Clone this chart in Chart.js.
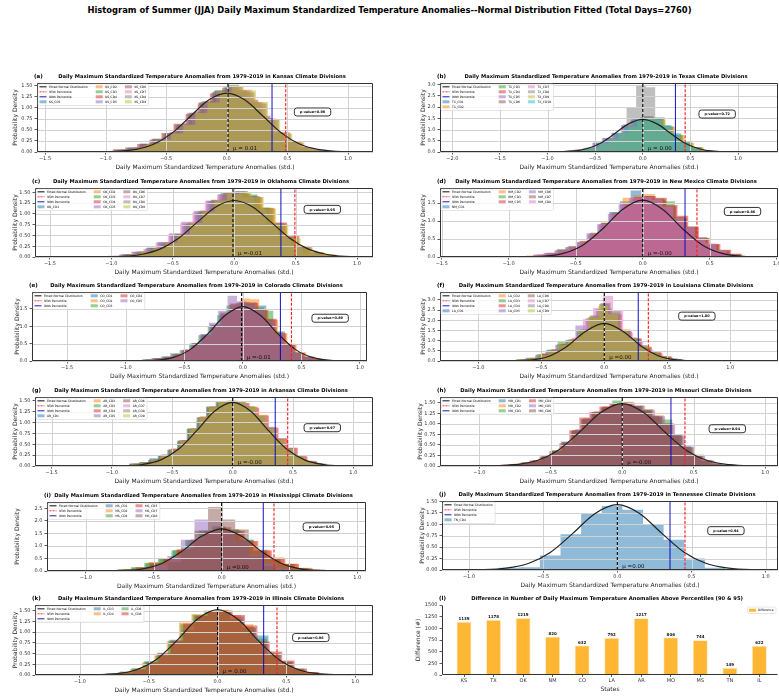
<!DOCTYPE html>
<html>
<head>
<meta charset="utf-8">
<script src="https://cdn.jsdelivr.net/npm/chart.js@4.4.1/dist/chart.umd.min.js"></script>
<style>
  html, body { margin: 0; padding: 0; background: #fff; }
  #fig { position: relative; width: 779px; height: 698px; overflow: hidden; font-family: "DejaVu Sans", sans-serif; }
  #suptitle { position: absolute; left: 0; top: 5px; width: 779px; text-align: center; font-weight: bold; font-size: 8.4px; color: #000; white-space: nowrap; }
  canvas { position: absolute; }
</style>
</head>
<body>
<div id="fig">
  <div id="suptitle">Histogram of Summer (JJA) Daily Maximum Standardized Temperature Anomalies--Normal Distribution Fitted (Total Days=2760)</div>
</div>
<script>
const FONT = '"DejaVu Sans", sans-serif';
const TAB10 = ['#1f77b4', '#ff7f0e', '#2ca02c', '#d62728', '#9467bd', '#8c564b', '#e377c2', '#7f7f7f', '#bcbd22', '#17becf'];

// ---- per-panel summary values ----
const PANEL_TAGS = ['(a)', '(b)', '(c)', '(d)', '(e)', '(f)', '(g)', '(h)', '(i)', '(j)', '(k)'];
const STATE_NAMES = ['Kansas', 'Texas', 'Oklahoma', 'New Mexico', 'Colorado', 'Louisiana', 'Arkansas', 'Missouri', 'Mississippi', 'Tennessee', 'Illinois'];
const P_VALUES = ['0.98', '0.72', '0.95', '0.86', '0.89', '1.00', '0.97', '0.94', '0.95', '0.94', '0.96'];
const MU = [0.01, 0.00, -0.01, -0.00, -0.01, 0.00, -0.00, -0.00, 0.00, 0.00, 0.00];
const MU_TEXT = ['\u03bc = 0.01', '\u03bc = 0.00', '\u03bc =-0.01', '\u03bc =-0.00', '\u03bc =-0.01', '\u03bc =0.00', '\u03bc =-0.00', '\u03bc =-0.00', '\u03bc =0.00', '\u03bc =0.00', '\u03bc = 0.00'];
const P90 = [0.373, 0.343, 0.380, 0.316, 0.321, 0.270, 0.353, 0.341, 0.307, 0.355, 0.335];
const P95 = [0.486, 0.445, 0.494, 0.405, 0.415, 0.350, 0.456, 0.439, 0.386, 0.456, 0.432];

// ---- fitted normal curves (x grid shared) ----
const CURVE_X = [-2.0, -1.5, -1.2, -0.9, -0.75, -0.6, -0.45, -0.3, -0.15, 0, 0.15, 0.3, 0.45, 0.6, 0.75, 0.9, 1.2, 1.5];
const KS_CURVE = [0, 0, 0, 0.015, 0.058, 0.180, 0.432, 0.807, 1.174, 1.33, 1.174, 0.807, 0.432, 0.180, 0.058, 0.015, 0, 0];
const TX_CURVE = [0, 0, 0, 0.007, 0.035, 0.134, 0.380, 0.800, 1.250, 1.45, 1.250, 0.800, 0.380, 0.134, 0.035, 0.007, 0, 0];
const OK_CURVE = [0, 0, 0.001, 0.017, 0.064, 0.189, 0.441, 0.808, 1.161, 1.31, 1.161, 0.808, 0.441, 0.189, 0.064, 0.017, 0.001, 0];
const NM_CURVE = [0, 0, 0, 0.003, 0.019, 0.093, 0.321, 0.778, 1.323, 1.58, 1.323, 0.778, 0.321, 0.093, 0.019, 0.003, 0, 0];
const CO_CURVE = [0, 0, 0, 0.003, 0.021, 0.097, 0.328, 0.782, 1.318, 1.57, 1.318, 0.782, 0.328, 0.097, 0.021, 0.003, 0, 0];
const LA_CURVE = [0, 0, 0, 0, 0.004, 0.039, 0.211, 0.705, 1.454, 1.85, 1.454, 0.705, 0.211, 0.039, 0.004, 0, 0, 0];
const AR_CURVE = [0, 0, 0, 0.007, 0.035, 0.135, 0.383, 0.805, 1.258, 1.46, 1.258, 0.805, 0.383, 0.135, 0.035, 0.007, 0, 0];
const MO_CURVE = [0, 0, 0, 0.006, 0.031, 0.125, 0.369, 0.798, 1.268, 1.48, 1.268, 0.798, 0.369, 0.125, 0.031, 0.006, 0, 0];
const MS_CURVE = [0, 0, 0, 0.001, 0.011, 0.068, 0.277, 0.754, 1.375, 1.68, 1.375, 0.754, 0.277, 0.068, 0.011, 0.001, 0, 0];
const TN_CURVE = [0, 0, 0, 0.008, 0.039, 0.142, 0.390, 0.802, 1.238, 1.43, 1.238, 0.802, 0.390, 0.142, 0.039, 0.008, 0, 0];
const IL_CURVE = [0, 0, 0, 0.004, 0.025, 0.111, 0.348, 0.789, 1.290, 1.52, 1.290, 0.789, 0.348, 0.111, 0.025, 0.004, 0, 0];

// ---- histograms: division names, first bin edge, bin width, bin heights ----
const KS_DIVS = ['KS_CD1', 'KS_CD2', 'KS_CD3', 'KS_CD4', 'KS_CD5', 'KS_CD6', 'KS_CD7', 'KS_CD8', 'KS_CD9'];
const KS_START = [-1.02, -0.98, -1.00, -1.04, -0.97, -1.01, -0.99, -1.03, -0.96];
const KS_BW = 0.1;
const KS_HIST = [
  [0.02, 0.04, 0.10, 0.19, 0.30, 0.40, 0.60, 0.85, 1.10, 1.35, 1.45, 1.37, 1.12, 0.76, 0.44, 0.22, 0.10, 0.04, 0.02, 0.01],
  [0.01, 0.05, 0.09, 0.16, 0.27, 0.44, 0.63, 0.90, 1.14, 1.33, 1.49, 1.36, 1.10, 0.72, 0.45, 0.24, 0.11, 0.05, 0.02, 0.01],
  [0.02, 0.05, 0.08, 0.17, 0.29, 0.41, 0.61, 0.87, 1.15, 1.40, 1.52, 1.35, 1.08, 0.74, 0.41, 0.21, 0.09, 0.04, 0.01, 0.01],
  [0.02, 0.06, 0.10, 0.18, 0.27, 0.43, 0.64, 0.86, 1.10, 1.32, 1.44, 1.40, 1.18, 0.82, 0.46, 0.23, 0.10, 0.05, 0.02, 0.01],
  [0.03, 0.06, 0.11, 0.17, 0.28, 0.45, 0.66, 0.92, 1.13, 1.36, 1.47, 1.34, 1.09, 0.73, 0.42, 0.20, 0.09, 0.04, 0.02, 0.00],
  [0.02, 0.04, 0.09, 0.18, 0.30, 0.43, 0.62, 0.89, 1.14, 1.38, 1.46, 1.39, 1.13, 0.75, 0.43, 0.22, 0.10, 0.04, 0.02, 0.01],
  [0.02, 0.05, 0.10, 0.16, 0.28, 0.42, 0.63, 0.88, 1.12, 1.36, 1.50, 1.41, 1.12, 0.76, 0.44, 0.23, 0.11, 0.05, 0.02, 0.01],
  [0.01, 0.05, 0.09, 0.17, 0.29, 0.42, 0.62, 0.89, 1.13, 1.34, 1.47, 1.37, 1.11, 0.77, 0.43, 0.21, 0.10, 0.04, 0.02, 0.01],
  [0.02, 0.05, 0.09, 0.18, 0.28, 0.42, 0.61, 0.88, 1.12, 1.36, 1.48, 1.39, 1.13, 0.74, 0.42, 0.22, 0.09, 0.04, 0.02, 0.01]
];

const TX_DIVS = ['TX_CD1', 'TX_CD2', 'TX_CD3', 'TX_CD4', 'TX_CD5', 'TX_CD6', 'TX_CD7', 'TX_CD8', 'TX_CD9', 'TX_CD10'];
const TX_START = [-1.00, -0.97, -1.02, -0.99, -1.03, -0.98, -1.01, -0.37, -0.96, -1.00];
const TX_BW = 0.1;
const TX_HIST = [
  [0.02, 0.04, 0.06, 0.10, 0.17, 0.38, 0.58, 0.82, 1.12, 1.40, 1.50, 1.42, 1.15, 0.78, 0.42, 0.20, 0.07, 0.02],
  [0.03, 0.04, 0.07, 0.11, 0.19, 0.40, 0.60, 0.80, 1.10, 1.42, 1.52, 1.45, 1.12, 0.74, 0.40, 0.22, 0.08, 0.02],
  [0.02, 0.03, 0.06, 0.09, 0.18, 0.42, 0.62, 0.84, 1.15, 1.45, 1.55, 1.48, 1.18, 0.76, 0.41, 0.19, 0.07, 0.02],
  [0.02, 0.04, 0.05, 0.10, 0.20, 0.39, 0.57, 0.82, 1.18, 1.48, 1.60, 1.50, 1.14, 0.73, 0.38, 0.21, 0.06, 0.02],
  [0.01, 0.04, 0.06, 0.11, 0.18, 0.40, 0.61, 0.86, 1.20, 1.44, 1.52, 1.40, 1.10, 0.72, 0.39, 0.20, 0.07, 0.02],
  [0.02, 0.05, 0.07, 0.10, 0.17, 0.37, 0.60, 0.80, 1.16, 1.46, 1.56, 1.46, 1.13, 0.77, 0.42, 0.21, 0.07, 0.02],
  [0.02, 0.04, 0.06, 0.10, 0.19, 0.41, 0.63, 0.85, 1.25, 1.50, 1.58, 1.44, 1.12, 0.73, 0.39, 0.19, 0.06, 0.02],
  [0.10, 0.45, 2.00, 2.95, 2.88, 1.55, 0.70, 0.25, 0.07],
  [0.05, 0.05, 0.07, 0.11, 0.18, 0.38, 0.58, 0.83, 1.14, 1.43, 1.54, 1.43, 1.12, 0.75, 0.41, 0.21, 0.08, 0.02],
  [0.02, 0.04, 0.06, 0.10, 0.18, 0.40, 0.59, 0.84, 1.15, 1.45, 1.55, 1.48, 1.20, 0.85, 0.45, 0.20, 0.07, 0.02]
];

const OK_DIVS = ['OK_CD1', 'OK_CD2', 'OK_CD3', 'OK_CD4', 'OK_CD5', 'OK_CD6', 'OK_CD7', 'OK_CD8', 'OK_CD9'];
const OK_START = [-1.02, -0.98, -1.01, -0.97, -1.03, -0.99, -1.04, -1.00, -0.96];
const OK_BW = 0.1;
const OK_HIST = [
  [0.02, 0.05, 0.11, 0.21, 0.35, 0.50, 0.75, 1.02, 1.28, 1.44, 1.50, 1.42, 1.10, 0.74, 0.44, 0.23, 0.10, 0.04, 0.02, 0.01],
  [0.03, 0.06, 0.13, 0.19, 0.32, 0.54, 0.80, 1.08, 1.32, 1.47, 1.46, 1.38, 1.14, 0.78, 0.47, 0.21, 0.09, 0.05, 0.02, 0.01],
  [0.02, 0.07, 0.12, 0.22, 0.31, 0.50, 0.76, 1.04, 1.30, 1.50, 1.52, 1.45, 1.15, 0.72, 0.43, 0.20, 0.10, 0.05, 0.02, 0.00],
  [0.02, 0.06, 0.10, 0.20, 0.34, 0.53, 0.79, 1.06, 1.27, 1.43, 1.47, 1.39, 1.13, 0.80, 0.50, 0.24, 0.11, 0.05, 0.02, 0.01],
  [0.03, 0.06, 0.12, 0.18, 0.33, 0.55, 0.82, 1.07, 1.31, 1.46, 1.49, 1.37, 1.09, 0.75, 0.44, 0.22, 0.10, 0.04, 0.01, 0.01],
  [0.02, 0.05, 0.13, 0.21, 0.32, 0.51, 0.77, 1.05, 1.33, 1.48, 1.53, 1.41, 1.11, 0.77, 0.45, 0.22, 0.10, 0.05, 0.02, 0.01],
  [0.02, 0.06, 0.12, 0.19, 0.34, 0.52, 0.78, 1.03, 1.29, 1.45, 1.48, 1.40, 1.12, 0.76, 0.46, 0.23, 0.10, 0.05, 0.02, 0.01],
  [0.02, 0.06, 0.11, 0.20, 0.32, 0.53, 0.77, 1.06, 1.30, 1.44, 1.49, 1.41, 1.13, 0.77, 0.45, 0.22, 0.10, 0.04, 0.02, 0.01],
  [0.02, 0.06, 0.12, 0.20, 0.33, 0.52, 0.79, 1.05, 1.31, 1.46, 1.50, 1.39, 1.12, 0.76, 0.44, 0.22, 0.10, 0.05, 0.02, 0.01]
];

const NM_DIVS = ['NM_CD1', 'NM_CD2', 'NM_CD3', 'NM_CD5', 'NM_CD6', 'NM_CD7', 'NM_CD8'];
const NM_START = [-0.89, -0.87, -0.88, -0.86, -0.90, -0.87, -0.89];
const NM_BW = 0.08;
const NM_HIST = [
  [0.03, 0.06, 0.10, 0.18, 0.27, 0.40, 0.62, 0.90, 1.25, 1.55, 1.85, 1.70, 1.58, 1.38, 1.05, 0.80, 0.50, 0.33, 0.17, 0.08, 0.03],
  [0.04, 0.07, 0.12, 0.20, 0.30, 0.45, 0.68, 0.95, 1.20, 1.65, 1.72, 1.75, 1.62, 1.42, 1.10, 0.84, 0.54, 0.36, 0.19, 0.09, 0.03],
  [0.03, 0.05, 0.11, 0.22, 0.30, 0.43, 0.66, 0.93, 1.24, 1.45, 1.62, 1.66, 1.63, 1.55, 1.12, 0.85, 0.55, 0.35, 0.18, 0.08, 0.03],
  [0.02, 0.06, 0.11, 0.17, 0.28, 0.44, 0.64, 0.94, 1.22, 1.47, 1.66, 1.70, 1.65, 1.45, 1.15, 0.84, 0.53, 0.36, 0.20, 0.09, 0.03],
  [0.03, 0.06, 0.12, 0.18, 0.27, 0.42, 0.66, 0.91, 1.20, 1.46, 1.64, 1.67, 1.58, 1.38, 1.06, 0.80, 0.51, 0.34, 0.18, 0.08, 0.02],
  [0.03, 0.05, 0.11, 0.19, 0.29, 0.41, 0.65, 0.95, 1.23, 1.50, 1.66, 1.69, 1.59, 1.40, 1.07, 0.82, 0.52, 0.35, 0.18, 0.07, 0.03],
  [0.03, 0.06, 0.11, 0.18, 0.28, 0.42, 0.64, 0.92, 1.21, 1.48, 1.65, 1.67, 1.60, 1.40, 1.08, 0.83, 0.56, 0.38, 0.19, 0.08, 0.03]
];

const CO_DIVS = ['CO_CD1', 'CO_CD2', 'CO_CD3', 'CO_CD4', 'CO_CD5'];
const CO_START = [-0.92, -0.90, -0.94, -0.91, -0.93];
const CO_BW = 0.08;
const CO_HIST = [
  [0.02, 0.04, 0.07, 0.12, 0.19, 0.30, 0.52, 0.78, 1.05, 1.40, 1.62, 1.68, 1.70, 1.60, 1.20, 0.85, 0.50, 0.23, 0.11, 0.05, 0.02],
  [0.03, 0.05, 0.08, 0.11, 0.21, 0.33, 0.48, 0.73, 1.00, 1.40, 1.65, 1.80, 1.78, 1.48, 1.18, 0.80, 0.47, 0.25, 0.12, 0.05, 0.02],
  [0.03, 0.05, 0.09, 0.13, 0.22, 0.31, 0.50, 0.74, 1.00, 1.32, 1.60, 1.68, 1.66, 1.55, 1.45, 0.84, 0.50, 0.26, 0.13, 0.06, 0.02],
  [0.02, 0.04, 0.08, 0.12, 0.20, 0.33, 0.51, 0.76, 1.04, 1.36, 1.66, 1.70, 1.67, 1.48, 1.22, 0.80, 0.47, 0.24, 0.12, 0.05, 0.02],
  [0.03, 0.04, 0.08, 0.12, 0.20, 0.32, 0.50, 0.76, 1.10, 1.45, 1.88, 1.72, 1.62, 1.45, 1.15, 0.78, 0.46, 0.23, 0.11, 0.05, 0.02]
];

const LA_DIVS = ['LA_CD1', 'LA_CD2', 'LA_CD3', 'LA_CD4', 'LA_CD5', 'LA_CD6', 'LA_CD7', 'LA_CD8', 'LA_CD9'];
const LA_START = [-0.78, -0.75, -0.77, -0.74, -0.79, -0.76, -0.73, -0.75, -0.77];
const LA_BW = 0.08;
const LA_HIST = [
  [0.05, 0.08, 0.16, 0.32, 0.55, 0.82, 1.02, 1.45, 2.00, 2.45, 2.20, 1.52, 1.15, 0.78, 0.48, 0.24, 0.12, 0.05, 0.02],
  [0.04, 0.09, 0.17, 0.35, 0.50, 0.85, 1.08, 1.48, 2.05, 2.50, 2.28, 1.55, 1.12, 0.72, 0.43, 0.22, 0.10, 0.05, 0.02],
  [0.04, 0.07, 0.15, 0.33, 0.55, 0.97, 1.05, 1.52, 2.12, 2.52, 2.22, 1.48, 1.08, 0.70, 0.40, 0.21, 0.11, 0.05, 0.02],
  [0.05, 0.08, 0.14, 0.38, 0.58, 0.82, 1.10, 1.55, 2.15, 2.58, 2.30, 1.45, 1.10, 0.68, 0.42, 0.22, 0.10, 0.05, 0.02],
  [0.03, 0.06, 0.13, 0.28, 0.50, 0.78, 1.05, 1.75, 2.10, 2.55, 2.25, 1.50, 1.05, 0.66, 0.40, 0.20, 0.10, 0.04, 0.02],
  [0.04, 0.07, 0.13, 0.29, 0.52, 0.80, 1.04, 1.50, 2.20, 2.80, 2.35, 1.50, 1.08, 0.68, 0.41, 0.21, 0.10, 0.05, 0.02],
  [0.02, 0.05, 0.10, 0.22, 0.42, 0.75, 1.15, 2.05, 2.60, 3.20, 2.50, 1.40, 0.95, 0.55, 0.32, 0.15, 0.07, 0.03, 0.01],
  [0.03, 0.06, 0.12, 0.27, 0.48, 0.76, 1.02, 1.55, 2.25, 2.85, 2.45, 1.48, 1.02, 0.64, 0.38, 0.19, 0.09, 0.04, 0.02],
  [0.04, 0.07, 0.14, 0.30, 0.52, 0.80, 1.05, 1.50, 2.15, 2.70, 2.30, 1.55, 1.12, 0.70, 0.42, 0.22, 0.11, 0.05, 0.02]
];

const AR_DIVS = ['AR_CD1', 'AR_CD2', 'AR_CD3', 'AR_CD4', 'AR_CD5', 'AR_CD6', 'AR_CD7', 'AR_CD8', 'AR_CD9'];
const AR_START = [-0.85, -0.83, -0.86, -0.82, -0.84, -0.85, -0.83, -0.86, -0.84];
const AR_BW = 0.08;
const AR_HIST = [
  [0.04, 0.09, 0.18, 0.24, 0.36, 0.56, 0.83, 1.10, 1.33, 1.44, 1.47, 1.44, 1.33, 1.14, 0.86, 0.60, 0.39, 0.21, 0.10, 0.05, 0.02],
  [0.05, 0.08, 0.13, 0.26, 0.40, 0.60, 0.87, 1.14, 1.38, 1.47, 1.50, 1.43, 1.36, 1.18, 0.86, 0.64, 0.41, 0.23, 0.11, 0.05, 0.02],
  [0.05, 0.07, 0.14, 0.25, 0.37, 0.57, 0.86, 1.03, 1.36, 1.48, 1.47, 1.46, 1.37, 1.13, 0.89, 0.61, 0.40, 0.22, 0.12, 0.05, 0.02],
  [0.05, 0.08, 0.15, 0.24, 0.39, 0.59, 0.84, 1.11, 1.34, 1.46, 1.49, 1.45, 1.34, 1.16, 0.88, 0.63, 0.42, 0.22, 0.11, 0.05, 0.02],
  [0.06, 0.09, 0.14, 0.26, 0.38, 0.58, 0.85, 1.13, 1.35, 1.45, 1.48, 1.44, 1.35, 1.15, 0.87, 0.62, 0.40, 0.21, 0.10, 0.04, 0.02],
  [0.05, 0.08, 0.15, 0.25, 0.38, 0.59, 0.86, 1.12, 1.36, 1.46, 1.50, 1.47, 1.36, 1.14, 0.88, 0.62, 0.40, 0.22, 0.11, 0.05, 0.02],
  [0.04, 0.08, 0.14, 0.27, 0.40, 0.60, 0.84, 1.12, 1.35, 1.45, 1.48, 1.45, 1.34, 1.15, 0.90, 0.63, 0.42, 0.24, 0.12, 0.05, 0.02],
  [0.05, 0.08, 0.14, 0.25, 0.38, 0.58, 0.85, 1.12, 1.36, 1.46, 1.48, 1.45, 1.35, 1.15, 0.88, 0.62, 0.40, 0.22, 0.11, 0.05, 0.02],
  [0.05, 0.08, 0.13, 0.25, 0.37, 0.57, 0.85, 1.12, 1.35, 1.47, 1.50, 1.46, 1.36, 1.16, 0.87, 0.61, 0.39, 0.22, 0.11, 0.05, 0.02]
];

const MO_DIVS = ['MO_CD1', 'MO_CD2', 'MO_CD3', 'MO_CD4', 'MO_CD5', 'MO_CD6'];
const MO_START = [-0.85, -0.83, -0.84, -0.86, -0.82, -0.84];
const MO_BW = 0.07;
const MO_HIST = [
  [0.03, 0.05, 0.09, 0.12, 0.24, 0.36, 0.58, 0.83, 1.10, 1.26, 1.38, 1.46, 1.48, 1.40, 1.30, 1.16, 0.98, 0.75, 0.47, 0.25, 0.12, 0.06, 0.02],
  [0.03, 0.06, 0.08, 0.14, 0.21, 0.34, 0.54, 0.86, 1.13, 1.30, 1.42, 1.50, 1.52, 1.44, 1.35, 1.20, 1.02, 0.70, 0.44, 0.27, 0.14, 0.06, 0.02],
  [0.02, 0.05, 0.08, 0.13, 0.23, 0.38, 0.56, 0.84, 1.11, 1.27, 1.40, 1.55, 1.49, 1.42, 1.33, 1.15, 1.10, 0.72, 0.43, 0.26, 0.13, 0.06, 0.02],
  [0.03, 0.05, 0.07, 0.13, 0.22, 0.35, 0.54, 0.85, 1.15, 1.28, 1.41, 1.47, 1.50, 1.41, 1.31, 1.19, 0.99, 0.71, 0.45, 0.26, 0.13, 0.05, 0.02],
  [0.03, 0.05, 0.08, 0.12, 0.22, 0.34, 0.55, 0.87, 1.12, 1.29, 1.40, 1.48, 1.50, 1.43, 1.32, 1.18, 1.00, 0.73, 0.46, 0.25, 0.12, 0.06, 0.02],
  [0.03, 0.05, 0.08, 0.13, 0.22, 0.35, 0.56, 0.85, 1.12, 1.28, 1.40, 1.47, 1.50, 1.42, 1.32, 1.18, 1.00, 0.72, 0.45, 0.26, 0.13, 0.06, 0.02]
];

const MS_DIVS = ['MS_CD1', 'MS_CD2', 'MS_CD4', 'MS_CD5', 'MS_CD7', 'MS_CD8'];
const MS_START = [-0.86, -0.84, -0.87, -0.83, -0.60, -0.40];
const MS_BW = 0.1;
const MS_HIST = [
  [0.03, 0.07, 0.13, 0.30, 0.48, 0.83, 1.22, 1.58, 1.72, 1.62, 1.25, 0.85, 0.50, 0.28, 0.12, 0.05, 0.02],
  [0.04, 0.08, 0.16, 0.36, 0.52, 0.86, 1.20, 1.55, 1.70, 1.58, 1.18, 0.84, 0.55, 0.30, 0.13, 0.06, 0.02],
  [0.03, 0.07, 0.15, 0.33, 0.48, 0.82, 1.24, 1.62, 1.78, 1.66, 1.25, 0.80, 0.48, 0.27, 0.12, 0.05, 0.02],
  [0.03, 0.06, 0.14, 0.31, 0.50, 0.86, 1.26, 1.60, 1.74, 1.60, 1.20, 0.82, 0.50, 0.28, 0.11, 0.05, 0.02],
  [0.08, 0.25, 0.60, 1.25, 2.05, 1.95, 1.60, 1.20, 0.65, 0.30, 0.10, 0.03],
  [0.35, 0.90, 1.60, 2.55, 2.05, 1.65, 0.60, 0.20, 0.05]
];

const TN_DIVS = ['TN_CD4'];
const TN_START = [-0.80];
const TN_BW = 0.139;
const TN_HIST = [
  [0.05, 0.06, 0.32, 0.78, 1.25, 1.40, 1.32, 1.00, 0.66, 0.25, 0.05]
];

const IL_DIVS = ['IL_CD3', 'IL_CD4', 'IL_CD6', 'IL_CD8'];
const IL_START = [-0.80, -0.82, -0.81, -0.79];
const IL_BW = 0.09;
const IL_HIST = [
  [0.03, 0.08, 0.15, 0.32, 0.52, 0.82, 1.05, 1.38, 1.46, 1.48, 1.36, 1.10, 0.92, 0.48, 0.30, 0.13, 0.06, 0.02],
  [0.03, 0.06, 0.13, 0.28, 0.46, 0.78, 1.22, 1.42, 1.50, 1.52, 1.40, 1.18, 0.80, 0.46, 0.28, 0.14, 0.06, 0.02],
  [0.04, 0.07, 0.15, 0.31, 0.45, 0.80, 1.18, 1.40, 1.48, 1.46, 1.30, 1.12, 0.85, 0.52, 0.32, 0.15, 0.06, 0.02],
  [0.02, 0.06, 0.13, 0.29, 0.50, 0.80, 1.20, 1.38, 1.47, 1.50, 1.40, 1.15, 0.78, 0.55, 0.34, 0.15, 0.07, 0.02]
];

// ---- panel (l) bar chart ----
const STATES = ['KS', 'TX', 'OK', 'NM', 'CO', 'LA', 'AR', 'MO', 'MS', 'TN', 'IL'];
const DIFF = [1139, 1178, 1219, 820, 632, 792, 1217, 806, 744, 149, 622];

const PANELS = [
  { divs: KS_DIVS, start: KS_START, bw: KS_BW, hist: KS_HIST, curve: KS_CURVE },
  { divs: TX_DIVS, start: TX_START, bw: TX_BW, hist: TX_HIST, curve: TX_CURVE },
  { divs: OK_DIVS, start: OK_START, bw: OK_BW, hist: OK_HIST, curve: OK_CURVE },
  { divs: NM_DIVS, start: NM_START, bw: NM_BW, hist: NM_HIST, curve: NM_CURVE },
  { divs: CO_DIVS, start: CO_START, bw: CO_BW, hist: CO_HIST, curve: CO_CURVE },
  { divs: LA_DIVS, start: LA_START, bw: LA_BW, hist: LA_HIST, curve: LA_CURVE },
  { divs: AR_DIVS, start: AR_START, bw: AR_BW, hist: AR_HIST, curve: AR_CURVE },
  { divs: MO_DIVS, start: MO_START, bw: MO_BW, hist: MO_HIST, curve: MO_CURVE },
  { divs: MS_DIVS, start: MS_START, bw: MS_BW, hist: MS_HIST, curve: MS_CURVE },
  { divs: TN_DIVS, start: TN_START, bw: TN_BW, hist: TN_HIST, curve: TN_CURVE },
  { divs: IL_DIVS, start: IL_START, bw: IL_BW, hist: IL_HIST, curve: IL_CURVE }
];

// axes boxes in page pixels + axis limits
const AXES = [
  { left: 37, right: 373, top: 83, bottom: 152, xmin: -1.566, xmax: 1.206, ymax: 1.56, ystep: 0.25, ydec: 2, labOff: 22, pv: [0.82, 0.58], ncol: 3 },
  { left: 440, right: 778, top: 83, bottom: 152, xmin: -2.13, xmax: 1.42, ymax: 3.07, ystep: 0.5, ydec: 1, labOff: 17, pv: [0.82, 0.55], ncol: 3 },
  { left: 35, right: 373, top: 188, bottom: 257, xmin: -1.622, xmax: 1.13, ymax: 1.60, ystep: 0.25, ydec: 2, labOff: 20, pv: [0.85, 0.69], ncol: 3 },
  { left: 440, right: 778, top: 188, bottom: 257, xmin: -1.513, xmax: 1.01, ymax: 1.92, ystep: 0.5, ydec: 1, labOff: 17, pv: [0.895, 0.66], ncol: 3 },
  { left: 32, right: 367, top: 292, bottom: 361, xmin: -1.80, xmax: 1.06, ymax: 1.99, ystep: 0.5, ydec: 1, labOff: 15, pv: [0.89, 0.62], ncol: 3 },
  { left: 440, right: 778, top: 292, bottom: 361, xmin: -1.305, xmax: 1.38, ymax: 3.39, ystep: 0.5, ydec: 1, labOff: 17, pv: [0.76, 0.65], ncol: 3 },
  { left: 35, right: 373, top: 397, bottom: 466, xmin: -1.638, xmax: 1.163, ymax: 1.585, ystep: 0.25, ydec: 2, labOff: 20, pv: [0.85, 0.555], ncol: 3 },
  { left: 440, right: 778, top: 397, bottom: 466, xmin: -1.275, xmax: 1.09, ymax: 1.635, ystep: 0.25, ydec: 2, labOff: 20, pv: [0.85, 0.54], ncol: 3 },
  { left: 47, right: 366, top: 502, bottom: 571, xmin: -1.287, xmax: 1.064, ymax: 2.75, ystep: 0.5, ydec: 1, labOff: 30, pv: [0.86, 0.64], ncol: 3 },
  { left: 442, right: 778, top: 501, bottom: 570, xmin: -1.182, xmax: 1.083, ymax: 1.51, ystep: 0.25, ydec: 2, labOff: 20, pv: [0.845, 0.57], ncol: 1 },
  { left: 35, right: 373, top: 605, bottom: 675, xmin: -1.327, xmax: 1.13, ymax: 1.63, ystep: 0.25, ydec: 2, labOff: 20, pv: [0.816, 0.535], ncol: 3 }
];
const BAR_AXES = { left: 442, right: 778, top: 605, bottom: 675, xmin: -0.745, xmax: 10.63, ymax: 1500, ystep: 250, labOff: 24 };

const fig = document.getElementById('fig');

function rgba(hex, a) {
  const n = parseInt(hex.slice(1), 16);
  return `rgba(${n >> 16},${(n >> 8) & 255},${n & 255},${a})`;
}

function roundRect(ctx, x, y, w, h, r) {
  ctx.beginPath();
  ctx.moveTo(x + r, y);
  ctx.arcTo(x + w, y, x + w, y + h, r);
  ctx.arcTo(x + w, y + h, x, y + h, r);
  ctx.arcTo(x, y + h, x, y, r);
  ctx.arcTo(x, y, x + w, y, r);
  ctx.closePath();
}

const fmtX = v => (v < -1e-9 ? '\u2212' : '') + Math.abs(v).toFixed(1);

// canvas covering the axes box plus room for ticks, labels and title
function addCanvas(box) {
  const c = document.createElement('canvas');
  const L = box.left - 36, T = box.top - 12;
  const W = Math.min(779, box.right + 1) - L, H = box.bottom + 21 - T;
  c.width = W; c.height = H;
  c.style.left = L + 'px'; c.style.top = T + 'px';
  c.style.width = W + 'px'; c.style.height = H + 'px';
  fig.appendChild(c);
  return { c, padRight: L + W - box.right };
}

function histPoints(start, bw, h) {
  const pts = [{ x: start, y: 0 }];
  h.forEach((v, i) => pts.push({ x: start + i * bw, y: v }));
  pts.push({ x: start + h.length * bw, y: 0 });
  return pts;
}

function drawGrid(chart) {
  const { ctx, chartArea: a, scales: { x, y } } = chart;
  ctx.save();
  ctx.strokeStyle = '#d2d2d2';
  ctx.lineWidth = 1;
  ctx.beginPath();
  x.ticks.forEach(t => {
    const px = Math.round(x.getPixelForValue(t.value)) + 0.5;
    ctx.moveTo(px, a.top); ctx.lineTo(px, a.bottom);
  });
  y.ticks.forEach(t => {
    const py = Math.round(y.getPixelForValue(t.value)) + 0.5;
    ctx.moveTo(a.left, py); ctx.lineTo(a.right, py);
  });
  ctx.stroke();
  ctx.restore();
}

function drawFrame(ctx, a, sides) {
  ctx.save();
  ctx.strokeStyle = '#333';
  ctx.lineWidth = 1;
  const l = Math.round(a.left) + 0.5, r = Math.round(a.right) - 0.5;
  const t = Math.round(a.top) + 0.5, b = Math.round(a.bottom) - 0.5;
  ctx.beginPath();
  if (sides.includes('l')) { ctx.moveTo(l, t); ctx.lineTo(l, b); }
  if (sides.includes('b')) { ctx.moveTo(l, b); ctx.lineTo(r, b); }
  if (sides.includes('r')) { ctx.moveTo(r, t); ctx.lineTo(r, b); }
  if (sides.includes('t')) { ctx.moveTo(l, t); ctx.lineTo(r, t); }
  ctx.stroke();
  ctx.restore();
}

function drawTitles(ctx, a, tag, title, xlab, ylab, labOff, xlabDy) {
  ctx.save();
  ctx.fillStyle = '#000';
  ctx.textBaseline = 'middle';
  ctx.font = 'bold 5.5px ' + FONT;
  ctx.textAlign = 'left';
  ctx.fillText(tag, a.left - 3, a.top - 6.5);
  ctx.font = 'bold 5.2px ' + FONT;
  ctx.textAlign = 'center';
  ctx.fillText(title, (a.left + a.right) / 2 - 3, a.top - 6.5);
  ctx.font = '6px ' + FONT;
  ctx.fillStyle = '#222';
  ctx.fillText(xlab, (a.left + a.right) / 2, a.bottom + xlabDy);
  ctx.translate(a.left - labOff, (a.top + a.bottom) / 2);
  ctx.rotate(-Math.PI / 2);
  ctx.fillText(ylab, 0, 0);
  ctx.restore();
}

// matplotlib-style legend, filled column by column
function drawLegend(ctx, a, items, ncol) {
  ctx.save();
  ctx.font = '3px ' + FONT;
  const cols = [];
  let idx = 0;
  for (let c = 0; c < ncol; c++) {
    const n = Math.floor(items.length / ncol) + (c < items.length % ncol ? 1 : 0);
    cols.push(items.slice(idx, idx + n));
    idx += n;
  }
  const rows = cols[0].length;
  const x0 = a.left + 1, y0 = a.top + 1;
  const xs = [];
  let cx = x0 + 1.5;
  cols.forEach(col => {
    xs.push(cx);
    const w = Math.max(...col.map(it => ctx.measureText(it.label).width));
    cx += 9.5 + w + 8;
  });
  const bw = cx - 8 + 2.5 - x0, bh = rows * 5 + 1.5;
  roundRect(ctx, x0, y0, bw, bh, 1.2);
  ctx.fillStyle = 'rgba(255,255,255,0.8)';
  ctx.fill();
  ctx.strokeStyle = '#cccccc';
  ctx.lineWidth = 0.5;
  ctx.stroke();
  ctx.textBaseline = 'middle';
  ctx.textAlign = 'left';
  cols.forEach((col, ci) => col.forEach((it, ri) => {
    const cy = a.top + 3.8 + ri * 5, hx = xs[ci];
    if (it.kind === 'patch') {
      ctx.fillStyle = it.color;
      ctx.fillRect(hx, cy - 1.5, 7, 3);
    } else {
      ctx.strokeStyle = it.color;
      ctx.lineWidth = it.lw;
      ctx.setLineDash(it.dash || []);
      ctx.beginPath(); ctx.moveTo(hx, cy); ctx.lineTo(hx + 7, cy); ctx.stroke();
      ctx.setLineDash([]);
    }
    ctx.fillStyle = '#000';
    ctx.fillText(it.label, hx + 9.5, cy);
  }));
  ctx.restore();
}

function makeHist(k) {
  const p = PANELS[k], ax = AXES[k];
  const { c, padRight } = addCanvas(ax);
  const datasets = [];

  datasets.push({ data: CURVE_X.map((x, i) => ({ x, y: p.curve[i] })), borderColor: '#222', borderWidth: 1.2,
    cubicInterpolationMode: 'monotone', order: 3, isLine: true });
  datasets.push({ data: [{ x: MU[k], y: 0 }, { x: MU[k], y: ax.ymax }], borderColor: '#000', borderWidth: 1.1,
    borderDash: [3, 2], order: 2, isLine: true });
  datasets.push({ data: [{ x: P95[k], y: 0 }, { x: P95[k], y: ax.ymax }], borderColor: '#ff1a1a', borderWidth: 1.1,
    borderDash: [3, 1.6], order: 1, isLine: true });
  datasets.push({ data: [{ x: P90[k], y: 0 }, { x: P90[k], y: ax.ymax }], borderColor: 'rgba(0,0,190,0.85)', borderWidth: 1.1,
    order: 0, isLine: true });

  p.divs.forEach((d, i) => {
    datasets.push({ label: d, data: histPoints(p.start[i], p.bw, p.hist[i]), stepped: 'before',
      borderColor: 'transparent', borderWidth: 0, backgroundColor: rgba(TAB10[i], 0.5),
      fill: 'origin', order: 1000 - i });
  });

  const legendItems = [
    { kind: 'line', label: 'Fitted Normal Distribution', color: '#333', lw: 1.2 },
    { kind: 'line', label: '95th Percentile', color: '#ff1a1a', lw: 0.9, dash: [2, 1] },
    { kind: 'line', label: '90th Percentile', color: '#0000b4', lw: 0.9 }
  ].concat(p.divs.map((d, i) => ({ kind: 'patch', label: d, color: rgba(TAB10[i], 0.5) })));

  const decor = {
    id: 'decor' + k,
    beforeDraw(chart) { chart.$gridDone = false; },
    beforeDatasetDraw(chart, args) {
      if (!chart.$gridDone && chart.data.datasets[args.index].isLine) {
        drawGrid(chart);
        chart.$gridDone = true;
      }
    },
    afterDraw(chart) {
      const { ctx, chartArea: a, scales: { x } } = chart;
      drawFrame(ctx, a, 'lbrt');
      drawTitles(ctx, a, PANEL_TAGS[k],
        'Daily Maximum Standardized Temperature Anomalies from 1979-2019 in ' + STATE_NAMES[k] + ' Climate Divisions',
        'Daily Maximum Standardized Temperature Anomalies (std.)', 'Probability Density', ax.labOff, 15);
      drawLegend(ctx, a, legendItems, ax.ncol);
      // p-value box
      ctx.save();
      const bx = a.left + ax.pv[0] * (a.right - a.left), by = a.bottom - ax.pv[1] * (a.bottom - a.top);
      const txt = 'p-value=' + P_VALUES[k];
      ctx.font = 'bold 3.4px ' + FONT;
      const w = ctx.measureText(txt).width + 11;
      roundRect(ctx, bx - w / 2, by - 4, w, 8, 2.5);
      ctx.fillStyle = '#fff'; ctx.fill();
      ctx.strokeStyle = '#000'; ctx.lineWidth = 0.8; ctx.stroke();
      ctx.fillStyle = '#000'; ctx.textAlign = 'center'; ctx.textBaseline = 'middle';
      ctx.fillText(txt, bx, by + 0.3);
      // mean label
      ctx.font = '5.5px ' + FONT;
      ctx.textAlign = 'left';
      ctx.fillStyle = '#111';
      ctx.fillText(MU_TEXT[k], x.getPixelForValue(MU[k]) + 5, a.bottom - 3.8);
      ctx.restore();
    }
  };

  new Chart(c, {
    type: 'line',
    data: { datasets },
    options: {
      responsive: false, animation: false, devicePixelRatio: 1, events: [],
      layout: { padding: { top: 12, right: padRight, left: 0, bottom: 0 } },
      elements: { point: { radius: 0 }, line: { fill: false } },
      plugins: { legend: { display: false }, tooltip: { enabled: false }, title: { display: false } },
      scales: {
        x: {
          type: 'linear', min: ax.xmin, max: ax.xmax,
          afterFit: s => { s.height = 21; s.paddingLeft = 0; s.paddingRight = 0; },
          border: { display: false },
          grid: { drawOnChartArea: false, tickLength: 2.5, tickColor: '#333', lineWidth: 0.8 },
          ticks: { stepSize: 0.5, includeBounds: false, autoSkip: false, maxRotation: 0, minRotation: 0,
            padding: 1.5, color: '#333', font: { size: 5, family: FONT }, callback: v => fmtX(v) }
        },
        y: {
          min: 0, max: ax.ymax,
          afterFit: s => { s.width = 36; s.paddingTop = 0; s.paddingBottom = 0; },
          border: { display: false },
          grid: { drawOnChartArea: false, tickLength: 2.5, tickColor: '#333', lineWidth: 0.8 },
          ticks: { stepSize: ax.ystep, includeBounds: false, autoSkip: false, padding: 2, color: '#333',
            font: { size: 5, family: FONT }, callback: v => v.toFixed(ax.ydec) }
        }
      }
    },
    plugins: [decor]
  });
}

function makeBar() {
  const ax = BAR_AXES;
  const { c, padRight } = addCanvas(ax);
  const barColor = 'rgba(255,165,0,0.8)';
  const decor = {
    id: 'decorBar',
    afterDraw(chart) {
      const { ctx, chartArea: a, scales: { x, y } } = chart;
      drawFrame(ctx, a, 'lb');
      drawTitles(ctx, a, '(l)',
        'Difference in Number of Daily Maximum Temperature Anomalies Above Percentiles (90 & 95)',
        'States', 'Difference (#)', ax.labOff, 14);
      ctx.save();
      ctx.font = 'bold 4px ' + FONT;
      ctx.fillStyle = '#111';
      ctx.textAlign = 'center';
      ctx.textBaseline = 'alphabetic';
      DIFF.forEach((v, i) => ctx.fillText(String(v), x.getPixelForValue(i), y.getPixelForValue(v) - 1.8));
      // legend
      ctx.font = '3px ' + FONT;
      const tw = ctx.measureText('Difference').width;
      const lw = tw + 13, lx = a.right - 2 - lw, ly = a.top + 2;
      roundRect(ctx, lx, ly, lw, 6.5, 1.2);
      ctx.fillStyle = 'rgba(255,255,255,0.8)'; ctx.fill();
      ctx.strokeStyle = '#ccc'; ctx.lineWidth = 0.5; ctx.stroke();
      ctx.fillStyle = barColor;
      ctx.fillRect(lx + 1.5, ly + 1.75, 7, 3);
      ctx.fillStyle = '#000'; ctx.textAlign = 'left'; ctx.textBaseline = 'middle';
      ctx.fillText('Difference', lx + 10.5, ly + 3.3);
      ctx.restore();
    }
  };
  new Chart(c, {
    type: 'bar',
    data: {
      datasets: [{
        label: 'Difference', data: STATES.map((s, i) => ({ x: i, y: DIFF[i] })),
        backgroundColor: barColor, borderColor: 'rgba(255,225,170,0.9)', borderWidth: 0.8,
        categoryPercentage: 1, barPercentage: 0.5
      }]
    },
    options: {
      responsive: false, animation: false, devicePixelRatio: 1, events: [],
      layout: { padding: { top: 12, right: padRight, left: 0, bottom: 0 } },
      plugins: { legend: { display: false }, tooltip: { enabled: false } },
      scales: {
        x: {
          type: 'linear', min: ax.xmin, max: ax.xmax, offset: false,
          afterFit: s => { s.height = 21; s.paddingLeft = 0; s.paddingRight = 0; },
          border: { display: false },
          grid: { display: true, offset: false, drawOnChartArea: false, tickLength: 2, tickColor: '#333', lineWidth: 0.8 },
          ticks: { stepSize: 1, includeBounds: false, autoSkip: false, maxRotation: 0, minRotation: 0, padding: 1,
            color: '#333', font: { size: 5, family: FONT }, callback: v => STATES[v] ?? '' }
        },
        y: {
          min: 0, max: ax.ymax,
          afterFit: s => { s.width = 36; s.paddingTop = 0; s.paddingBottom = 0; },
          border: { display: false },
          grid: { drawOnChartArea: false, tickLength: 2.5, tickColor: '#333', lineWidth: 0.8 },
          ticks: { stepSize: ax.ystep, includeBounds: false, autoSkip: false, padding: 2, color: '#333',
            font: { size: 5, family: FONT }, callback: v => String(Math.round(v)) }
        }
      }
    },
    plugins: [decor]
  });
}

PANELS.forEach((p, k) => makeHist(k));
makeBar();
</script>
</body>
</html>
